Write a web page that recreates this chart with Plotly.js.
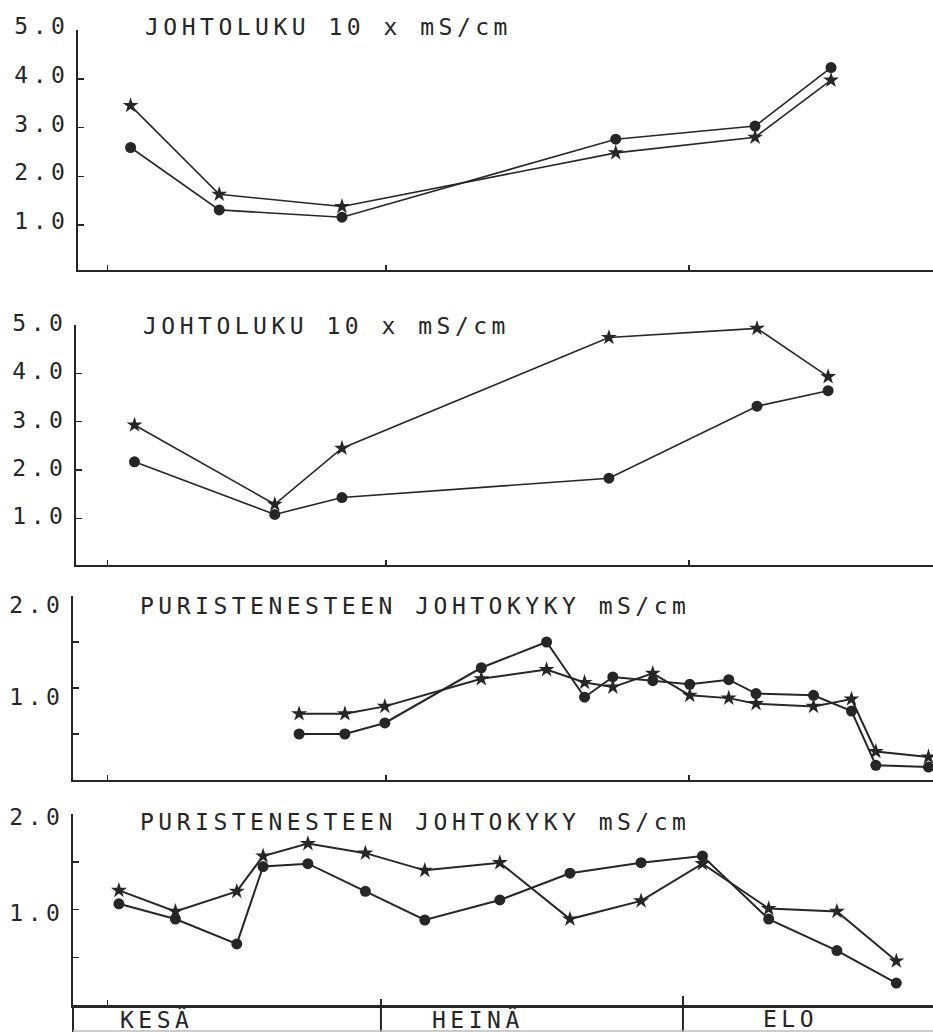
<!DOCTYPE html>
<html>
<head>
<meta charset="utf-8">
<script src="https://cdn.plot.ly/plotly-3.0.1.min.js"></script>
<style>
  html, body { margin: 0; padding: 0; background: #fff; }
  #chart { width: 933px; height: 1032px; }
  svg text { letter-spacing: 4.5px; }
</style>
</head>
<body>
<div id="chart"></div>
<script>
// ---- data (x = days counted from 1 June) ----
const panelTitles = ['JOHTOLUKU 10 x mS/cm', 'JOHTOLUKU 10 x mS/cm',
                     'PURISTENESTEEN JOHTOKYKY mS/cm', 'PURISTENESTEEN JOHTOKYKY mS/cm'];
const months = ['KESÄ', 'HEINÄ', 'ELO'];
const monthLabelDays = [3.0, 35.0, 69.0];
const monthBoundaryDays = [30.0, 61.0];
const xTickDays = [1.95, 30.5, 61.6];

const p1Days = [4.3, 13.4, 26.0, 54.1, 68.4, 76.2];
const p1Star = [3.45, 1.63, 1.38, 2.48, 2.80, 3.97];
const p1Dot  = [2.59, 1.31, 1.16, 2.76, 3.03, 4.23];

const p2Days = [4.7, 19.1, 26.0, 53.4, 68.6, 75.9];
const p2Star = [2.93, 1.29, 2.45, 4.74, 4.93, 3.93];
const p2Dot  = [2.17, 1.08, 1.43, 1.83, 3.32, 3.64];

const p3Days = [21.6, 26.3, 30.4, 40.3, 47.0, 50.9, 53.8, 57.9, 61.7, 65.7, 68.5, 74.4, 78.3, 80.8, 86.2];
const p3Star = [0.72, 0.72, 0.80, 1.10, 1.20, 1.06, 1.01, 1.16, 0.92, 0.89, 0.83, 0.80, 0.88, 0.31, 0.25];
const p3Dot  = [0.50, 0.50, 0.62, 1.22, 1.50, 0.90, 1.12, 1.08, 1.04, 1.09, 0.94, 0.92, 0.75, 0.16, 0.14];

const p4Days = [3.1, 8.9, 15.2, 17.9, 22.5, 28.4, 34.5, 42.2, 49.4, 56.7, 63.0, 69.8, 76.8, 82.9];
const p4Star = [1.20, 0.98, 1.19, 1.56, 1.69, 1.59, 1.41, 1.49, 0.90, 1.09, 1.48, 1.01, 0.98, 0.46];
const p4Dot  = [1.06, 0.90, 0.64, 1.45, 1.48, 1.19, 0.89, 1.10, 1.38, 1.49, 1.56, 0.90, 0.57, 0.23];

const yTicksJ = [1, 2, 3, 4, 5];
const yTextJ = ['1.0', '2.0', '3.0', '4.0', '5.0'];
const yTicksP = [0.5, 1, 1.5, 2];
const yTextP = ['', '1.0', '', '2.0'];

// ---- layout helpers ----
const W = 933, H = 1032;
const INK = '#262626';
const FONT = 'DejaVu Sans Mono';
const pxDay = px => (px - 88.7) / 9.742;   // page-pixel -> day calibration
const fy = py => 1 - py / H;

const panels = [
  {days: p1Days, star: p1Star, dot: p1Dot, left: 78, top: 30, bottom: 270, range: [0.077, 5], tv: yTicksJ, tt: yTextJ, shift: -4, lw: 1.6, titleX: 143, titleY: 27},
  {days: p2Days, star: p2Star, dot: p2Dot, left: 76, top: 325, bottom: 565, range: [0.034, 5], tv: yTicksJ, tt: yTextJ, shift: -2, lw: 1.6, titleX: 141, titleY: 326},
  {days: p3Days, star: p3Star, dot: p3Dot, left: 73, top: 596, bottom: 780, range: [0, 2], tv: yTicksP, tt: yTextP, shift: 9, lw: 2.0, titleX: 138, titleY: 606},
  {days: p4Days, star: p4Star, dot: p4Dot, left: 73, top: 814, bottom: 1005, range: [0, 2], tv: yTicksP, tt: yTextP, shift: 3, lw: 2.0, titleX: 138, titleY: 822}
];

const traces = [];
const layout = {
  width: W, height: H,
  margin: {l: 0, r: 0, t: 0, b: 0},
  paper_bgcolor: '#fff', plot_bgcolor: '#fff',
  showlegend: false,
  font: {family: FONT, color: INK, size: 23},
  annotations: [], shapes: []
};

panels.forEach((p, i) => {
  const n = i + 1;
  const xa = 'x' + (n === 1 ? '' : n), ya = 'y' + (n === 1 ? '' : n);
  traces.push({
    x: p.days, y: p.star, xaxis: xa, yaxis: ya, type: 'scatter', mode: 'lines+markers',
    line: {color: INK, width: p.lw}, marker: {symbol: 'star', size: 12, color: INK},
    cliponaxis: false, hoverinfo: 'skip'
  });
  traces.push({
    x: p.days, y: p.dot, xaxis: xa, yaxis: ya, type: 'scatter', mode: 'lines+markers',
    line: {color: INK, width: p.lw}, marker: {symbol: 'circle', size: 11, color: INK},
    cliponaxis: false, hoverinfo: 'skip'
  });
  layout['xaxis' + (n === 1 ? '' : n)] = {
    domain: [p.left / W, 1], range: [pxDay(p.left), pxDay(W)], anchor: ya,
    showline: true, linecolor: INK, linewidth: n === 4 ? 2.6 : 2,
    ticks: 'inside', ticklen: 5, tickwidth: 1.5, tickcolor: INK,
    tickvals: n === 4 ? [xTickDays[0]] : xTickDays, showticklabels: false,
    showgrid: false, zeroline: false, fixedrange: true
  };
  layout['yaxis' + (n === 1 ? '' : n)] = {
    domain: [fy(p.bottom), fy(p.top)], range: p.range, anchor: xa,
    showline: true, linecolor: INK, linewidth: 2,
    ticks: 'inside', ticklen: 6, tickwidth: 1.5, tickcolor: INK,
    tickvals: p.tv, ticktext: p.tt, ticklabelshift: p.shift, ticklabelstandoff: 2,
    tickfont: {family: FONT, size: 23, color: INK},
    showgrid: false, zeroline: false, fixedrange: true
  };
  layout.annotations.push({
    text: panelTitles[i], xref: 'paper', yref: 'paper', x: p.titleX / W, y: fy(p.titleY),
    xanchor: 'left', yanchor: 'middle', showarrow: false,
    font: {family: FONT, size: 23, color: INK}
  });
});

// month strip under the last panel
months.forEach((m, k) => {
  layout.annotations.push({
    text: m, xref: 'x4', yref: 'paper', x: monthLabelDays[k], y: fy(1019),
    xanchor: 'left', yanchor: 'middle', showarrow: false,
    font: {family: FONT, size: 23, color: INK}
  });
});
monthBoundaryDays.forEach((d, k) => {
  layout.shapes.push({type: 'line', xref: 'x4', yref: 'paper', x0: d, x1: d,
    y0: fy(k === 0 ? 999 : 996), y1: 0, line: {color: INK, width: 2}});
});
layout.shapes.push({type: 'line', xref: 'paper', yref: 'paper', x0: 73 / W, x1: 73 / W,
  y0: fy(1005), y1: 0, line: {color: INK, width: 2}});
layout.shapes.push({type: 'line', xref: 'paper', yref: 'paper', x0: 73 / W, x1: 1,
  y0: fy(1031), y1: fy(1031), line: {color: '#bdbdbd', width: 1.5}});

Plotly.newPlot('chart', traces, layout, {staticPlot: true, displayModeBar: false});
</script>
</body>
</html>
